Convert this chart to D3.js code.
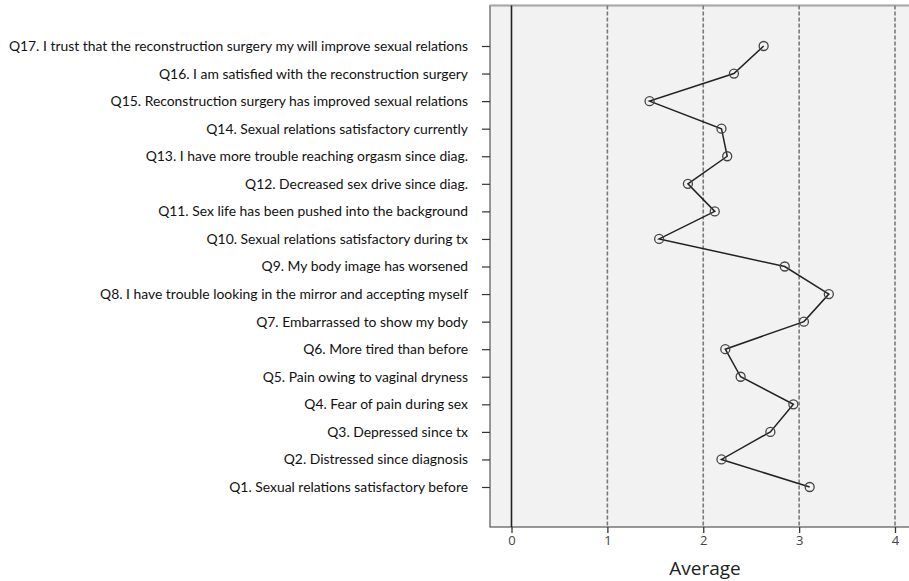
<!DOCTYPE html>
<html><head><meta charset="utf-8">
<script src="https://cdn.jsdelivr.net/npm/d3@7"></script>
<style>body{margin:0;background:#fff}</style>
</head><body>
<svg id="c" width="909" height="581"></svg>
<script>
const questions = [
 "Q1. Sexual relations satisfactory before",
 "Q2. Distressed since diagnosis",
 "Q3. Depressed since tx",
 "Q4. Fear of pain during sex",
 "Q5. Pain owing to vaginal dryness",
 "Q6. More tired than before",
 "Q7. Embarrassed to show my body",
 "Q8. I have trouble looking in the mirror and accepting myself",
 "Q9. My body image has worsened",
 "Q10. Sexual relations satisfactory during tx",
 "Q11. Sex life has been pushed into the background",
 "Q12. Decreased sex drive since diag.",
 "Q13. I have more trouble reaching orgasm since diag.",
 "Q14. Sexual relations satisfactory currently",
 "Q15. Reconstruction surgery has improved sexual relations",
 "Q16. I am satisfied with the reconstruction surgery",
 "Q17. I trust that the reconstruction surgery my will improve sexual relations"
];
const averages = [3.11, 2.19, 2.70, 2.94, 2.39, 2.23, 3.05, 3.31, 2.85, 1.54, 2.12, 1.84, 2.25, 2.19, 1.44, 2.32, 2.63];
const xTicks = [0, 1, 2, 3, 4];
const xLabel = "Average";

(function(){
const svg = d3.select("#c");
const pL = 490, pT = 5.5, pB = 527, pR = 912;
const x = d3.scaleLinear().domain([0, 4]).range([511.5, 895]);
const y = d3.scalePoint().domain(questions.slice().reverse()).range([46, 487]);

svg.append("rect").attr("x", pL).attr("y", pT).attr("width", pR - pL).attr("height", pB - pT)
  .attr("fill", "#f2f2f2").attr("stroke", "#555").attr("stroke-width", 1.2);
svg.append("line").attr("x1", pL).attr("x2", pR).attr("y1", pT).attr("y2", pT).attr("stroke", "#aaa").attr("stroke-width", 2);

svg.append("g").selectAll("line").data(xTicks).join("line")
  .attr("x1", d => x(d)).attr("x2", d => x(d)).attr("y1", pT).attr("y2", pB)
  .attr("stroke", d => d === 0 ? "#222" : "#7a7a7a")
  .attr("stroke-width", 1.6)
  .attr("stroke-dasharray", d => d === 0 ? null : "4,2");

const xa = svg.append("g").attr("transform", `translate(0,${pB})`)
  .call(d3.axisBottom(x).tickValues(xTicks).tickSize(6).tickPadding(3).tickFormat(d3.format("d")));
xa.select(".domain").remove();
xa.selectAll("line").attr("stroke", "#333").attr("stroke-width", 1.3);
xa.selectAll("text").attr("font-family", "Open Sans, sans-serif").attr("font-size", 13).attr("fill", "#444");

svg.append("text").attr("x", 705).attr("y", 575).attr("text-anchor", "middle")
  .attr("font-family", "Open Sans, sans-serif").attr("font-size", 19).attr("fill", "#222").text(xLabel);

const ya = svg.append("g").attr("transform", `translate(${pL},0)`)
  .call(d3.axisLeft(y).tickSize(8).tickPadding(14));
ya.select(".domain").remove();
ya.selectAll("line").attr("stroke", "#333").attr("stroke-width", 1.2);
ya.selectAll("text").attr("font-family", "Lato, sans-serif").attr("font-size", 13.9).attr("fill", "#111");

const pts = questions.map((q, i) => [x(averages[i]), y(q)]);
svg.append("path").attr("d", d3.line()(pts)).attr("fill", "none").attr("stroke", "#222").attr("stroke-width", 1.5);
svg.append("g").selectAll("circle").data(pts).join("circle")
  .attr("cx", d => d[0]).attr("cy", d => d[1]).attr("r", 4.5)
  .attr("fill", "none").attr("stroke", "#444").attr("stroke-width", 1.3);
})();
</script>
</body></html>
